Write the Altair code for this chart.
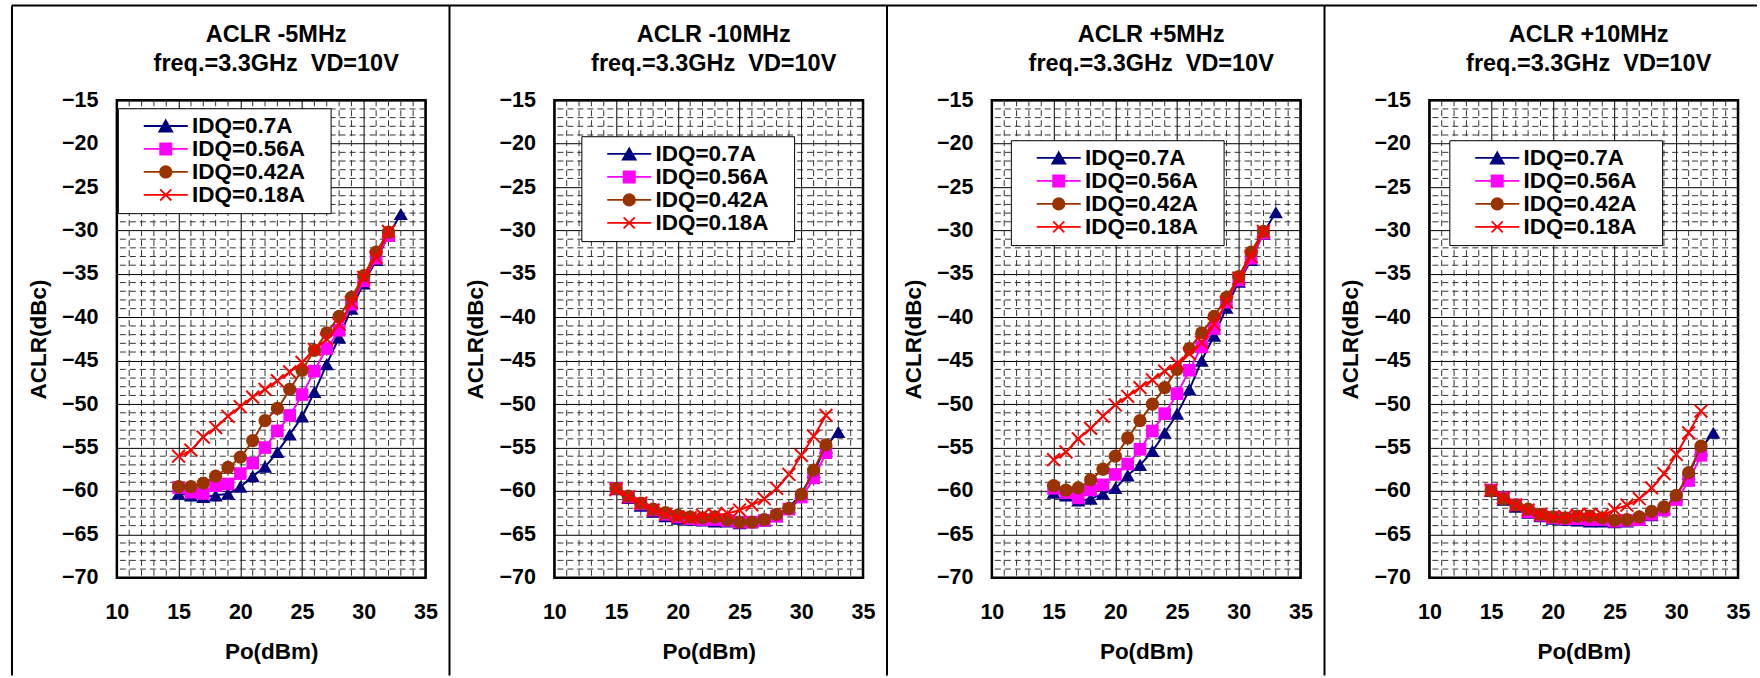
import altair as alt
import pandas as pd

# ---------------- data ----------------
PO_LONG = list(range(15, 34))   # 15..33 dBm (IDQ=0.7A)
PO_SHORT = list(range(15, 33))  # 15..32 dBm

SERIES = ["IDQ=0.7A", "IDQ=0.56A", "IDQ=0.42A", "IDQ=0.18A"]
COLORS = ["#000080", "#FF00FF", "#993300", "#FF0000"]

TITLES = ["ACLR -5MHz", "ACLR -10MHz", "ACLR +5MHz", "ACLR +10MHz"]
SUBTITLE = "freq.=3.3GHz\u00a0 VD=10V"

# ACLR -5MHz
m5_070 = [-60.3, -60.5, -60.7, -60.5, -60.3, -59.5, -58.3, -57.2, -55.5, -53.5, -51.4, -48.6, -45.4, -42.3, -39.0, -36.1, -33.4, -30.6, -28.1]
m5_056 = [-59.6, -60.15, -60.3, -59.4, -59.2, -58.0, -56.8, -55.0, -53.1, -51.3, -48.9, -46.2, -43.6, -41.5, -38.5, -35.8, -33.2, -30.6]
m5_042 = [-59.5, -59.5, -59.1, -58.3, -57.3, -56.1, -54.2, -51.9, -50.5, -48.3, -46.1, -43.8, -41.8, -39.9, -37.7, -35.2, -32.5, -30.2]
m5_018 = [-56.0, -55.3, -53.8, -52.7, -51.4, -50.3, -49.2, -48.3, -47.3, -46.3, -45.2, -43.7, -42.5, -40.8, -38.3, -35.4, -33.1, -30.1]

# ACLR -10MHz
m10_070 = [-59.8, -60.8, -61.7, -62.4, -62.9, -63.2, -63.3, -63.4, -63.5, -63.5, -63.7, -63.6, -63.4, -62.9, -61.9, -60.2, -57.8, -55.0, -53.2]
m10_056 = [-59.7, -60.7, -61.5, -62.2, -62.7, -63.0, -63.2, -63.3, -63.3, -63.4, -63.6, -63.6, -63.4, -62.9, -62.1, -60.7, -58.5, -55.6]
m10_042 = [-59.7, -60.6, -61.4, -62.1, -62.5, -62.8, -63.0, -63.1, -63.0, -63.3, -63.6, -63.6, -63.3, -62.7, -62.0, -60.4, -57.6, -54.7]
m10_018 = [-59.85, -60.7, -61.4, -62.2, -62.7, -63.0, -63.1, -62.8, -62.8, -62.6, -62.2, -61.6, -60.9, -59.7, -58.1, -55.9, -53.7, -51.3]

# ACLR +5MHz
p5_070 = [-60.2, -60.5, -61.1, -60.9, -60.3, -59.65, -58.2, -57.0, -55.4, -53.3, -51.1, -48.3, -45.0, -42.1, -38.9, -35.9, -33.4, -30.35, -27.9]
p5_056 = [-59.7, -60.2, -60.8, -59.9, -59.3, -58.1, -56.9, -55.2, -53.1, -51.1, -48.8, -46.1, -43.4, -41.3, -38.25, -35.7, -33.2, -30.3]
p5_042 = [-59.4, -59.9, -59.65, -58.7, -57.5, -56.0, -53.9, -51.9, -50.0, -48.1, -46.0, -43.6, -41.8, -39.9, -37.7, -35.3, -32.5, -30.1]
p5_018 = [-56.4, -55.5, -54.0, -52.8, -51.4, -50.1, -49.1, -48.1, -47.2, -46.2, -45.3, -44.2, -42.9, -40.8, -38.25, -35.5, -33.0, -30.1]

# ACLR +10MHz
p10_070 = [-60.0, -61.0, -61.8, -62.5, -62.9, -63.2, -63.3, -63.4, -63.5, -63.5, -63.6, -63.5, -63.3, -62.8, -62.0, -60.5, -58.0, -55.2, -53.3]
p10_056 = [-59.9, -60.8, -61.6, -62.4, -62.8, -63.1, -63.2, -63.2, -63.3, -63.3, -63.5, -63.4, -63.3, -62.7, -62.2, -61.0, -58.8, -55.9]
p10_042 = [-60.0, -60.9, -61.6, -62.1, -62.7, -63.0, -63.1, -62.9, -62.9, -63.1, -63.4, -63.3, -63.0, -62.35, -61.85, -60.5, -57.9, -54.85]
p10_018 = [-59.9, -60.8, -61.65, -62.2, -62.7, -63.0, -63.0, -62.8, -62.7, -62.8, -62.15, -61.65, -60.9, -59.65, -58.0, -55.8, -53.3, -50.8]

PANELS = [
    [m5_070, m5_056, m5_042, m5_018],
    [m10_070, m10_056, m10_042, m10_018],
    [p5_070, p5_056, p5_042, p5_018],
    [p10_070, p10_056, p10_042, p10_018],
]

X_TICKS = [10, 15, 20, 25, 30, 35]
Y_TICKS = [-70, -65, -60, -55, -50, -45, -40, -35, -30, -25, -20, -15]
X_MINOR = [v for v in range(11, 35) if v % 5 != 0]
Y_MINOR = [v for v in range(-69, -15) if v % 5 != 0]

# ---------------- styling ----------------
FONT = "Liberation Sans"
W, H = 309, 478
MARKERS = ["triangle-up", "square", "circle", "M-1,-1L1,1M-1,1L1,-1"]
MARKER_SIZE = [200, 160, 175, 165]
LEGEND_SHAPES = [
    "M-3.15,0H3.15M0,-0.8L0.92,0.8L-0.92,0.8Z",
    "M-3.15,0H3.15M-0.8,-0.8H0.8V0.8H-0.8Z",
    "M-3.15,0H3.15M0.82,0A0.82,0.82,0,1,1,-0.82,0A0.82,0.82,0,1,1,0.82,0Z",
    "M-3.15,0H3.15M-0.8,-0.8L0.8,0.8M-0.8,0.8L0.8,-0.8",
]
LEGEND_POS = [(1, 8), (27, 36), (19, 40), (20, 40)]
FRAME_RIGHT = [333, 333, 333, 328]

xscale = alt.Scale(domain=[10, 35], nice=False, zero=False)
yscale = alt.Scale(domain=[-70, -15], nice=False, zero=False)


def panel(i):
    frame_df = pd.DataFrame({"k": [0]})
    xenc = alt.X("po:Q", scale=xscale, title="Po(dBm)",
                 axis=alt.Axis(values=X_TICKS))
    yenc = alt.Y("aclr:Q", scale=yscale, title="ACLR(dBc)",
                 axis=alt.Axis(values=Y_TICKS))
    layers = []
    # outer frame of the panel
    layers.append(
        alt.Chart(frame_df).mark_rule(color="black", strokeWidth=2).encode(
            x=alt.value(-105), y=alt.value(-95), y2=alt.value(576))
    )
    layers.append(
        alt.Chart(frame_df).mark_rule(color="black", strokeWidth=2).encode(
            x=alt.value(-105), x2=alt.value(FRAME_RIGHT[i]), y=alt.value(-95))
    )
    # minor dashed grid
    layers.append(
        alt.Chart(pd.DataFrame({"po": X_MINOR})).mark_rule(
            color="#333", strokeWidth=1, strokeDash=[6, 4]).encode(x=xenc)
    )
    layers.append(
        alt.Chart(pd.DataFrame({"aclr": Y_MINOR})).mark_rule(
            color="#333", strokeWidth=1, strokeDash=[6, 4]).encode(y=yenc)
    )
    all_rows = []
    for s in range(4):
        vals = PANELS[i][s]
        xs = PO_LONG if len(vals) == len(PO_LONG) else PO_SHORT
        df = pd.DataFrame({"po": xs, "aclr": vals, "series": SERIES[s]})
        all_rows.append(df)
        layers.append(
            alt.Chart(df).mark_line(color=COLORS[s], strokeWidth=2,
                                    interpolate="catmull-rom").encode(x=xenc, y=yenc)
        )
        if s < 3:
            pts = alt.Chart(df).mark_point(shape=MARKERS[s], size=MARKER_SIZE[s],
                                           filled=True, color=COLORS[s], opacity=1,
                                           strokeWidth=0.5)
        else:
            pts = alt.Chart(df).mark_point(shape=MARKERS[s], size=MARKER_SIZE[s],
                                           filled=False, color=COLORS[s], opacity=1,
                                           strokeWidth=2)
        layers.append(pts.encode(x=xenc, y=yenc))

    legend = alt.Legend(
        orient="none", legendX=LEGEND_POS[i][0], legendY=LEGEND_POS[i][1],
        title=None, labelFont=FONT, labelFontSize=22.5, labelFontWeight="bold",
        labelColor="black", labelAlign="left", symbolSize=196, symbolStrokeWidth=1.8,
        strokeColor="black", fillColor="white", padding=6.5, rowPadding=0,
        symbolOffset=30.2, labelOffset=15,
        labelExpr="datum.label + '\u00a0\u00a0\u00a0\u200b'",
    )
    leg_df = pd.concat(all_rows, ignore_index=True)
    layers.append(
        alt.Chart(leg_df).mark_point(opacity=1, filled=True).encode(
            x=xenc, y=yenc,
            fill=alt.Fill("series:N", scale=alt.Scale(domain=SERIES, range=COLORS), legend=legend),
            stroke=alt.Stroke("series:N", scale=alt.Scale(domain=SERIES, range=COLORS), legend=legend),
            shape=alt.Shape("series:N", scale=alt.Scale(domain=SERIES, range=LEGEND_SHAPES), legend=legend),
        ).transform_filter(alt.datum.po < 0)
    )

    return alt.layer(*layers).properties(
        width=W, height=H,
        title=alt.TitleParams(
            text=[TITLES[i], SUBTITLE], font=FONT, fontSize=23.5, fontWeight="bold",
            color="black", lineHeight=29, anchor="middle", frame="group",
            baseline="bottom", offset=0, dy=95, dx=5,
        ),
    )


chart = alt.hconcat(*[panel(i) for i in range(4)], spacing=129, bounds="flush").resolve_scale(
    fill="independent", stroke="independent", shape="independent"
).resolve_legend(
    fill="independent", stroke="independent", shape="independent"
).properties(
    padding={"left": 9, "top": 2, "right": 0, "bottom": 0}
).configure(font=FONT).configure_view(
    stroke="black", strokeWidth=2.5
).configure_axis(
    labelFont=FONT, labelFontSize=21.5, labelFontWeight="bold", labelColor="black",
    titleFont=FONT, titleFontSize=22.5, titleFontWeight="bold", titleColor="black",
    grid=True, gridColor="black", gridWidth=1, domain=False, ticks=False, tickSize=0,
    labelFlush=False, labelOverlap=False,
).configure_axisX(
    labelPadding=24, titlePadding=17,
).configure_axisY(
    labelPadding=19, titlePadding=11,
)

chart.save("out.html", embed_options={"renderer": "svg", "actions": False})
